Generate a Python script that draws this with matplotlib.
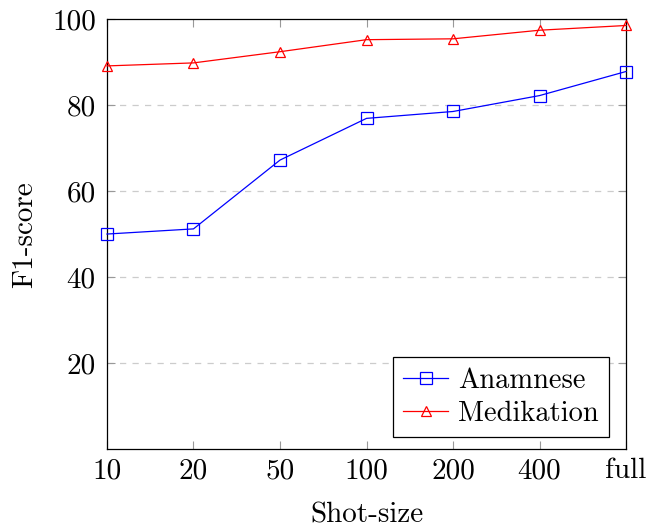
import matplotlib
matplotlib.use("Agg")
import matplotlib.pyplot as plt

categories = ["10", "20", "50", "100", "200", "400", "full"]
anamnese = [50.1, 51.3, 67.3, 77.0, 78.6, 82.3, 87.9]
medikation = [89.2, 89.9, 92.5, 95.3, 95.5, 97.5, 98.6]
y_ticks = [20, 40, 60, 80, 100]

plt.rcParams['font.family'] = 'serif'
plt.rcParams['font.serif'] = ['cmr10', 'DejaVu Serif']
plt.rcParams['axes.formatter.use_mathtext'] = True
plt.rcParams['mathtext.fontset'] = 'cm'

FS = 21

fig = plt.figure(figsize=(6.48, 5.29), dpi=100)
ax = fig.add_axes([0.1651, 0.1503, 0.801, 0.8129])

x = list(range(len(categories)))
ax.plot(x, anamnese, color='blue', lw=0.9, marker='s', markersize=8,
        markerfacecolor='none', markeredgecolor='blue', markeredgewidth=0.9,
        label='Anamnese', clip_on=False, zorder=3)
ax.plot(x, medikation, color='red', lw=0.9, marker='^', markersize=7,
        markerfacecolor='none', markeredgecolor='red', markeredgewidth=0.9,
        label='Medikation', clip_on=False, zorder=3)

ax.set_xlim(0, len(categories) - 1)
ax.set_ylim(0, 100)
ax.set_xticks(x)
ax.set_xticklabels(categories)
ax.set_yticks(y_ticks)
ax.set_yticklabels([str(v) for v in y_ticks])
ax.tick_params(axis='both', direction='in', length=6, width=0.8, color='#999999',
               labelsize=FS, top=True, right=True)
ax.tick_params(axis='x', pad=6)
ax.tick_params(axis='y', pad=8)
for v in [20, 40, 60, 80]:
    ax.axhline(v, color='#cccccc', lw=0.9, ls=(0, (5, 5)), zorder=1)
for s in ax.spines.values():
    s.set_linewidth(0.9)
    s.set_color('black')

ax.set_xlabel('Shot-size', fontsize=FS, labelpad=13)
ax.set_ylabel('F1-score', fontsize=FS, labelpad=10)

leg = ax.legend(loc='lower right', fontsize=20.5, frameon=True, fancybox=False,
                edgecolor='black', framealpha=1, handlelength=1.6,
                borderpad=0.35, labelspacing=0.25, handletextpad=0.35,
                borderaxespad=0, bbox_to_anchor=(0.967, 0.029))
leg.get_frame().set_linewidth(0.9)

fig.savefig('out.png', dpi=100)
